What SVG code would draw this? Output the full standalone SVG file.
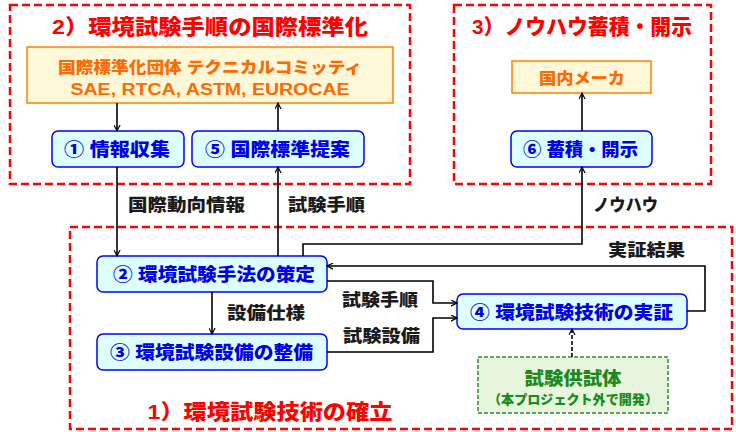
<svg xmlns="http://www.w3.org/2000/svg" width="736" height="432" viewBox="0 0 736 432">
<defs>
<style>
text{font-family:"Liberation Sans","Noto Sans CJK JP",sans-serif;font-weight:900;text-anchor:middle;dominant-baseline:central}
.grp{fill:none;stroke:#FF0000;stroke-width:2.5;stroke-dasharray:8 4}
.gt{fill:#FF0000;font-size:21px}
.org{fill:#FFF8D8;stroke:#FF8000;stroke-width:1.5}
.ot{fill:#FF6A00;font-size:16px}
.blue{fill:#DDFFFF;stroke:#0000FF;stroke-width:1.5}
.bt{fill:#0000E6;font-size:18px}
.lbl{fill:#1a1a1a;font-size:17px}
.con{fill:none;stroke:#000;stroke-width:1.6}
.green{fill:#E6F5DC;stroke:#2E8B2E;stroke-width:1.5;stroke-dasharray:4 2}
.gn{fill:#1A8A1A}
</style>
<marker id="ah" viewBox="0 0 10 10" refX="9" refY="5" markerWidth="7" markerHeight="7" orient="auto-start-reverse" markerUnits="userSpaceOnUse">
<path d="M0,0.5 L9,5 L0,9.5" fill="none" stroke="#000" stroke-width="1.6"/>
</marker>
</defs>
<rect width="736" height="432" fill="#FFFFFF"/>

<g id="group2">
<rect class="grp" x="10" y="5" width="400" height="179"/>
<text class="gt" x="210" y="26" textLength="316" lengthAdjust="spacingAndGlyphs">2）環境試験手順の国際標準化</text>
</g>
<g id="group3">
<rect class="grp" x="454" y="5" width="257" height="179"/>
<text class="gt" x="582" y="26" textLength="220" lengthAdjust="spacingAndGlyphs">3）ノウハウ蓄積・開示</text>
</g>
<g id="group1">
<rect class="grp" x="70" y="227" width="662" height="202"/>
<text class="gt" x="270" y="411" textLength="245" lengthAdjust="spacingAndGlyphs">1）環境試験技術の確立</text>
</g>

<g id="intl">
<rect class="org" x="27" y="47" width="366" height="56"/>
<text class="ot" x="210" y="67" textLength="304" lengthAdjust="spacingAndGlyphs">国際標準化団体 テクニカルコミッティ</text>
<text class="ot" x="210" y="89" textLength="279" lengthAdjust="spacingAndGlyphs">SAE, RTCA, ASTM, EUROCAE</text>
</g>
<g id="domestic">
<rect class="org" x="512" y="61" width="139" height="32"/>
<text class="ot" x="582" y="78" textLength="86" lengthAdjust="spacingAndGlyphs">国内メーカ</text>
</g>

<g id="n1">
<rect class="blue" x="52" y="131" width="132" height="36" rx="6"/>
<text class="bt" x="117" y="150" textLength="106" lengthAdjust="spacingAndGlyphs">① 情報収集</text>
</g>
<g id="n5">
<rect class="blue" x="192" y="131" width="172" height="36" rx="6"/>
<text class="bt" x="277.5" y="150" textLength="145" lengthAdjust="spacingAndGlyphs">⑤ 国際標準提案</text>
</g>
<g id="n6">
<rect class="blue" x="511" y="131" width="141" height="36" rx="6"/>
<text class="bt" x="580.5" y="150" textLength="115" lengthAdjust="spacingAndGlyphs">⑥ 蓄積・開示</text>
</g>
<g id="n2">
<rect class="blue" x="97" y="256" width="230" height="36" rx="6"/>
<text class="bt" x="214" y="275" textLength="202" lengthAdjust="spacingAndGlyphs">② 環境試験手法の策定</text>
</g>
<g id="n3">
<rect class="blue" x="97" y="334" width="230" height="36" rx="6"/>
<text class="bt" x="211.5" y="353" textLength="203" lengthAdjust="spacingAndGlyphs">③ 環境試験設備の整備</text>
</g>
<g id="n4">
<rect class="blue" x="457" y="294" width="230" height="35" rx="6"/>
<text class="bt" x="571.5" y="312.5" textLength="203" lengthAdjust="spacingAndGlyphs">④ 環境試験技術の実証</text>
</g>
<g id="specimen">
<rect class="green" x="478" y="357" width="190" height="56"/>
<text class="gn" x="573" y="379" style="font-size:18px" textLength="97" lengthAdjust="spacingAndGlyphs">試験供試体</text>
<text class="gn" x="573" y="399" style="font-size:13px" textLength="170" lengthAdjust="spacingAndGlyphs">（本プロジェクト外で開発）</text>
</g>

<g id="connectors">
<path class="con" d="M117,103 V131" marker-end="url(#ah)"/>
<path class="con" d="M278,131 V103" marker-end="url(#ah)"/>
<path class="con" d="M582,131 V93" marker-end="url(#ah)"/>
<path class="con" d="M117,167 V256" marker-end="url(#ah)"/>
<path class="con" d="M278,256 V167" marker-end="url(#ah)"/>
<path class="con" d="M303,256 V244 H582 V167" marker-end="url(#ah)"/>
<path class="con" d="M212,292 V334" marker-end="url(#ah)"/>
<path class="con" d="M327,281 H433 V303 H457" marker-end="url(#ah)"/>
<path class="con" d="M327,352 H433 V318 H457" marker-end="url(#ah)"/>
<path class="con" d="M687,311 H705 V266 H327" marker-end="url(#ah)"/>
<path class="con" d="M572,357 V329" stroke-dasharray="4 2" marker-end="url(#ah)"/>
<text class="lbl" x="186.5" y="205" textLength="117" lengthAdjust="spacingAndGlyphs">国際動向情報</text>
<text class="lbl" x="326.5" y="205" textLength="77" lengthAdjust="spacingAndGlyphs">試験手順</text>
<text class="lbl" x="625.5" y="205" textLength="65" lengthAdjust="spacingAndGlyphs">ノウハウ</text>
<text class="lbl" x="646.5" y="250" textLength="77" lengthAdjust="spacingAndGlyphs">実証結果</text>
<text class="lbl" x="266" y="313" textLength="78" lengthAdjust="spacingAndGlyphs">設備仕様</text>
<text class="lbl" x="380" y="300" textLength="76" lengthAdjust="spacingAndGlyphs">試験手順</text>
<text class="lbl" x="381.5" y="336" textLength="77" lengthAdjust="spacingAndGlyphs">試験設備</text>
</g>
</svg>
